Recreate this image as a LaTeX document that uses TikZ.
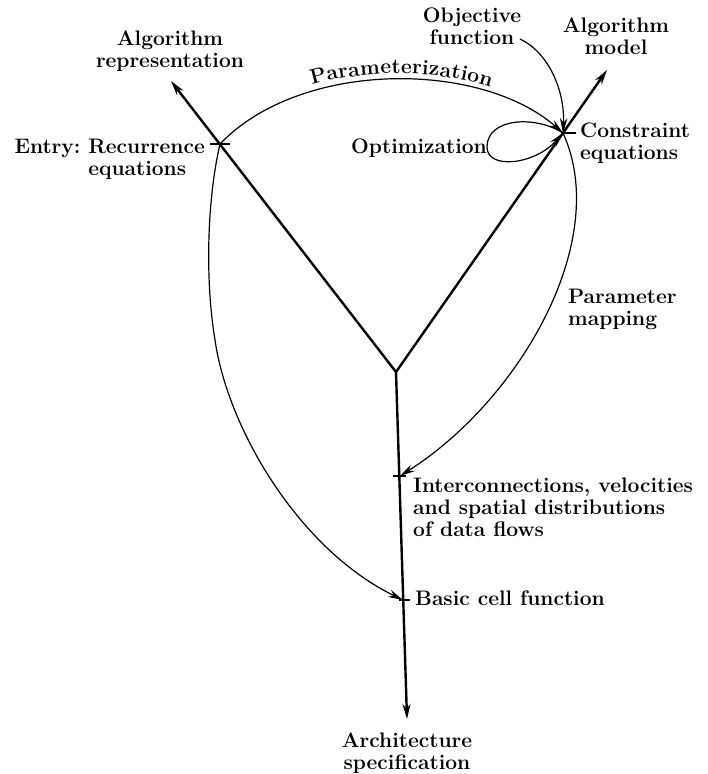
\documentclass[tikz,border=0pt]{standalone}
\usetikzlibrary{arrows.meta,decorations.text}
\newcommand\lblfont{\fontsize{21}{22}\selectfont\bfseries\frenchspacing}
\begin{document}
\begin{tikzpicture}[x=1pt,y=-1pt,
  arm/.style={line width=2.4pt,-{Stealth[length=15pt,width=8pt]}},
  flow/.style={line width=1.2pt,-{Stealth[length=15pt,width=7.5pt]}},
  loopline/.style={line width=1.2pt},
  tickmark/.style={line width=1.4pt},
  lbl/.style={inner sep=0pt,font=\lblfont}]
\useasboundingbox (0,0) rectangle (708,774);

% points on the three axes
\coordinate (J)  at (396,372);   % junction of the axes
\coordinate (AR) at (171,81);    % algorithm representation axis end
\coordinate (AM) at (607,70);    % algorithm model axis end
\coordinate (AS) at (407,719);   % architecture specification axis end
\coordinate (E)  at (220,144);   % entry point
\coordinate (C)  at (563,133);   % constraint equations point
\coordinate (I)  at (400,476);   % interconnections point
\coordinate (B)  at (403,600);   % basic cell function point
\coordinate (objend) at (520,39);

% axes
\draw[arm] (J) -- (AR);
\draw[arm] (J) -- (AM);
\draw[arm] (J) -- (AS);

% tick marks
\draw[tickmark] (E) ++(-10,0) -- ++(20,0);
\draw[tickmark] (C) -- ++(13,0);
\draw[tickmark] (I) ++(-7,0) -- ++(13,0);
\draw[tickmark] (B) ++(-4,0) -- ++(11,0);

% labels
\node[lbl,anchor=north,align=center] (algrep) at (170,30.4) {Algorithm\\representation};
\node[lbl,anchor=north east,align=left] (entry) at (205,138.6) {Entry: Recurrence\\\phantom{Entry: }equations};
\node[lbl,anchor=north,align=center] (objfn) at (472,7.4) {Objective\\function};
\node[lbl,anchor=north,align=center] (algmod) at (616,17.4) {Algorithm\\model};
\node[lbl,anchor=base east] (optim) at (487,153) {Optimization};
\node[lbl,anchor=north west,align=left] (constr) at (580,122.6) {Constraint\\equations};
\node[lbl,anchor=north west,align=left] (parmap) at (568,288.6) {Parameter\\mapping};
\node[lbl,anchor=north west,align=left] (inter) at (413,477.4) {Interconnections, velocities\\and spatial distributions\\of data flows};
\node[lbl,anchor=base west] (basic) at (415,605) {Basic cell function};
\node[lbl,anchor=north,align=center] (arch) at (407,732.4) {Architecture\\specification};

% parameterization
\draw[flow] (E) .. controls (300,60) and (480,60) .. (C);
\path[decorate,decoration={text along path,text={|\lblfont|Parameterization},
  text align={align=center,left indent=24pt},raise=6pt}]
  (E) .. controls (300,60) and (480,60) .. (C);

% objective function
\draw[flow] (objend) .. controls (548,52) and (565,90) .. (C);

% optimization loop
\draw[loopline] (C) .. controls (535,115) and (487,118) .. (487,147);
\draw[flow] (487,147) .. controls (487,170) and (535,165) .. (C);

% parameter mapping
\draw[flow] (C) .. controls (612,240) and (520,400) .. (I);

% entry to basic cell function
\draw[flow] (E) .. controls (207,200) and (205,280) .. (215,340)
  .. controls (228,430) and (300,550) .. (B);
\end{tikzpicture}
\end{document}
